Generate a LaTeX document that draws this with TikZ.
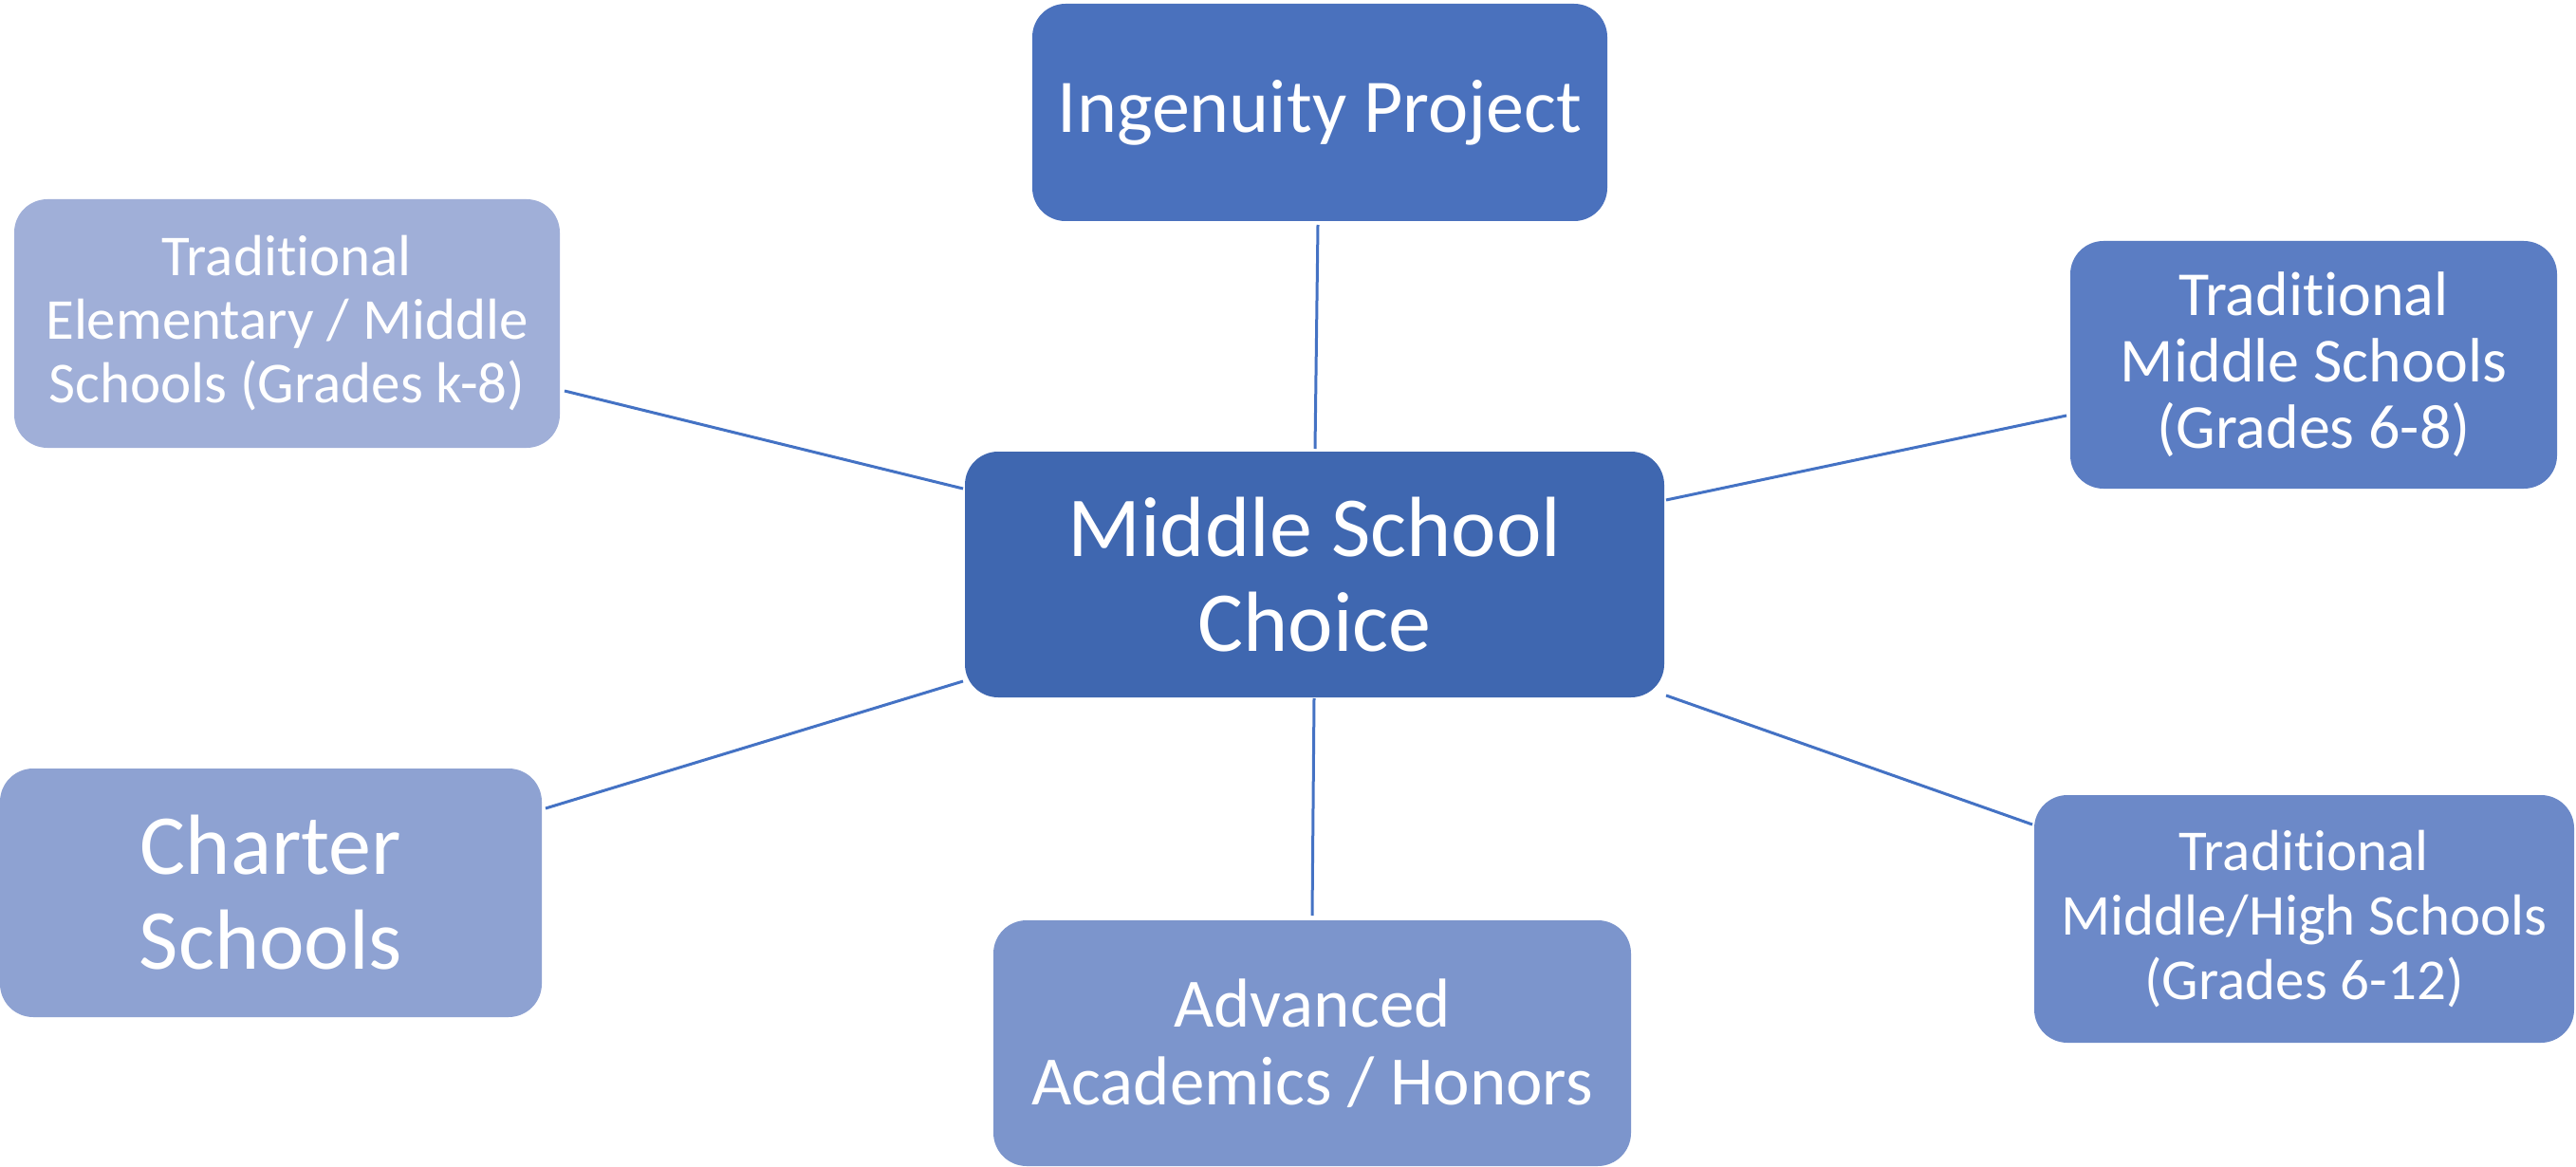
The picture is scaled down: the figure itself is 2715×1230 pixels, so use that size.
\documentclass[tikz,border=0pt]{standalone}
\usepackage{fontspec}
\setmainfont[Ligatures={NoCommon,NoContextual}]{Carlito}
\usetikzlibrary{calc}
\definecolor{cIng}{HTML}{4A71BD}
\definecolor{cMid}{HTML}{3F67B0}
\definecolor{cElem}{HTML}{A0AFD8}
\definecolor{cTms}{HTML}{5B7DC3}
\definecolor{cChar}{HTML}{8EA2D2}
\definecolor{cAdv}{HTML}{7C95CC}
\definecolor{cTmhs}{HTML}{6C89C8}
\definecolor{cLine}{HTML}{4472C4}
\tikzset{
  box/.style={rectangle, rounded corners=35pt, inner sep=0pt, text=white, align=center, draw=none},
  link/.style={draw=cLine, line width=3pt}
}
\begin{document}
\begin{tikzpicture}[x=1pt,y=-1pt]
\useasboundingbox[fill=white] (0,0) rectangle (2715,1230);
\node[box, fill=cIng, minimum width=606pt, minimum height=229pt, font=\fontsize{80}{92}\selectfont] (ing) at (1391,118.5) {Ingenuity Project};
\node[box, fill=cMid, minimum width=737pt, minimum height=259pt, font=\fontsize{90}{100}\selectfont] (mid) at (1385.5,605.5) {Middle School\\Choice};
\node[box, fill=cElem, minimum width=575pt, minimum height=262pt, font=\fontsize{61}{67}\selectfont] (elem) at (302.5,341) {Traditional\\Elementary / Middle\\Schools (Grades k-8)};
\node[box, fill=cTms, minimum width=513pt, minimum height=261pt, font=\fontsize{66}{70}\selectfont] (tms) at (2438.5,384.5) {Traditional\\Middle Schools\\(Grades 6-8)};
\node[box, fill=cChar, minimum width=571pt, minimum height=262pt, font=\fontsize{90}{100}\selectfont] (char) at (285.5,941) {Charter\\Schools};
\node[box, fill=cAdv, minimum width=672pt, minimum height=259pt, font=\fontsize{73}{82}\selectfont] (adv) at (1383,1099.5) {Advanced\\Academics / Honors};
\node[box, fill=cTmhs, minimum width=569pt, minimum height=261pt, font=\fontsize{61}{68}\selectfont] (tmhs) at (2428.5,968.5) {Traditional\\Middle/High Schools\\(Grades 6-12)};
\draw[link] ($(ing.center)+(-2,118.5)$) -- ($(mid.center)+(0.5,-132.5)$);
\draw[link] ($(elem.center)+(292.5,71)$) -- ($(mid.center)+(-370.5,-90.5)$);
\draw[link] ($(char.center)+(289.5,-89)$) -- ($(mid.center)+(-370.5,112.5)$);
\draw[link] ($(tms.center)+(-260.5,53.5)$) -- ($(mid.center)+(370.5,-78.5)$);
\draw[link] ($(tmhs.center)+(-286.5,-99.5)$) -- ($(mid.center)+(370.5,127.5)$);
\draw[link] ($(adv.center)+(0,-134.5)$) -- ($(mid.center)+(-0.5,130.5)$);
\end{tikzpicture}
\end{document}
